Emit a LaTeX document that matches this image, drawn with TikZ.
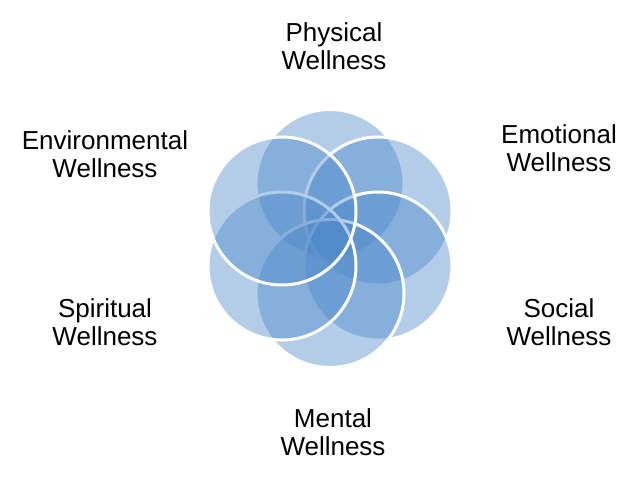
\documentclass[tikz,border=0pt]{standalone}
\usepackage{fontspec}
\setmainfont{Liberation Sans}
\definecolor{ringblue}{HTML}{4A86C8}

\tikzset{
  ring/.style={circle,minimum size=148pt,inner sep=0pt,draw=white,line width=3pt,fill=ringblue,fill opacity=.42},
  label/.style={align=center,font=\fontsize{26}{27.5}\selectfont,text=black}
}

\begin{document}
\begin{tikzpicture}[x=1pt,y=-1pt]
				\useasboundingbox (0,0) rectangle (637,480);

				\node[ring] (physical) at (330,183.5) {};
				\node[ring] (emotional) at (378,211) {};
				\node[ring] (social) at (378,266) {};
				\node[ring] (mental) at (330,293.5) {};
				\node[ring] (spiritual) at (282,266) {};
				\node[ring] (environmental) at (282,211) {};

				\node[label] (tphysical) at (334,46) {Physical\\Wellness};
				\node[label] (temotional) at (559,148) {Emotional\\Wellness};
				\node[label] (tsocial) at (559,322) {Social\\Wellness};
				\node[label] (tmental) at (333,432) {Mental\\Wellness};
				\node[label] (tspiritual) at (105,322) {Spiritual\\Wellness};
				\node[label] (tenvironmental) at (105,154) {Environmental\\Wellness};
			\end{tikzpicture}
\end{document}
